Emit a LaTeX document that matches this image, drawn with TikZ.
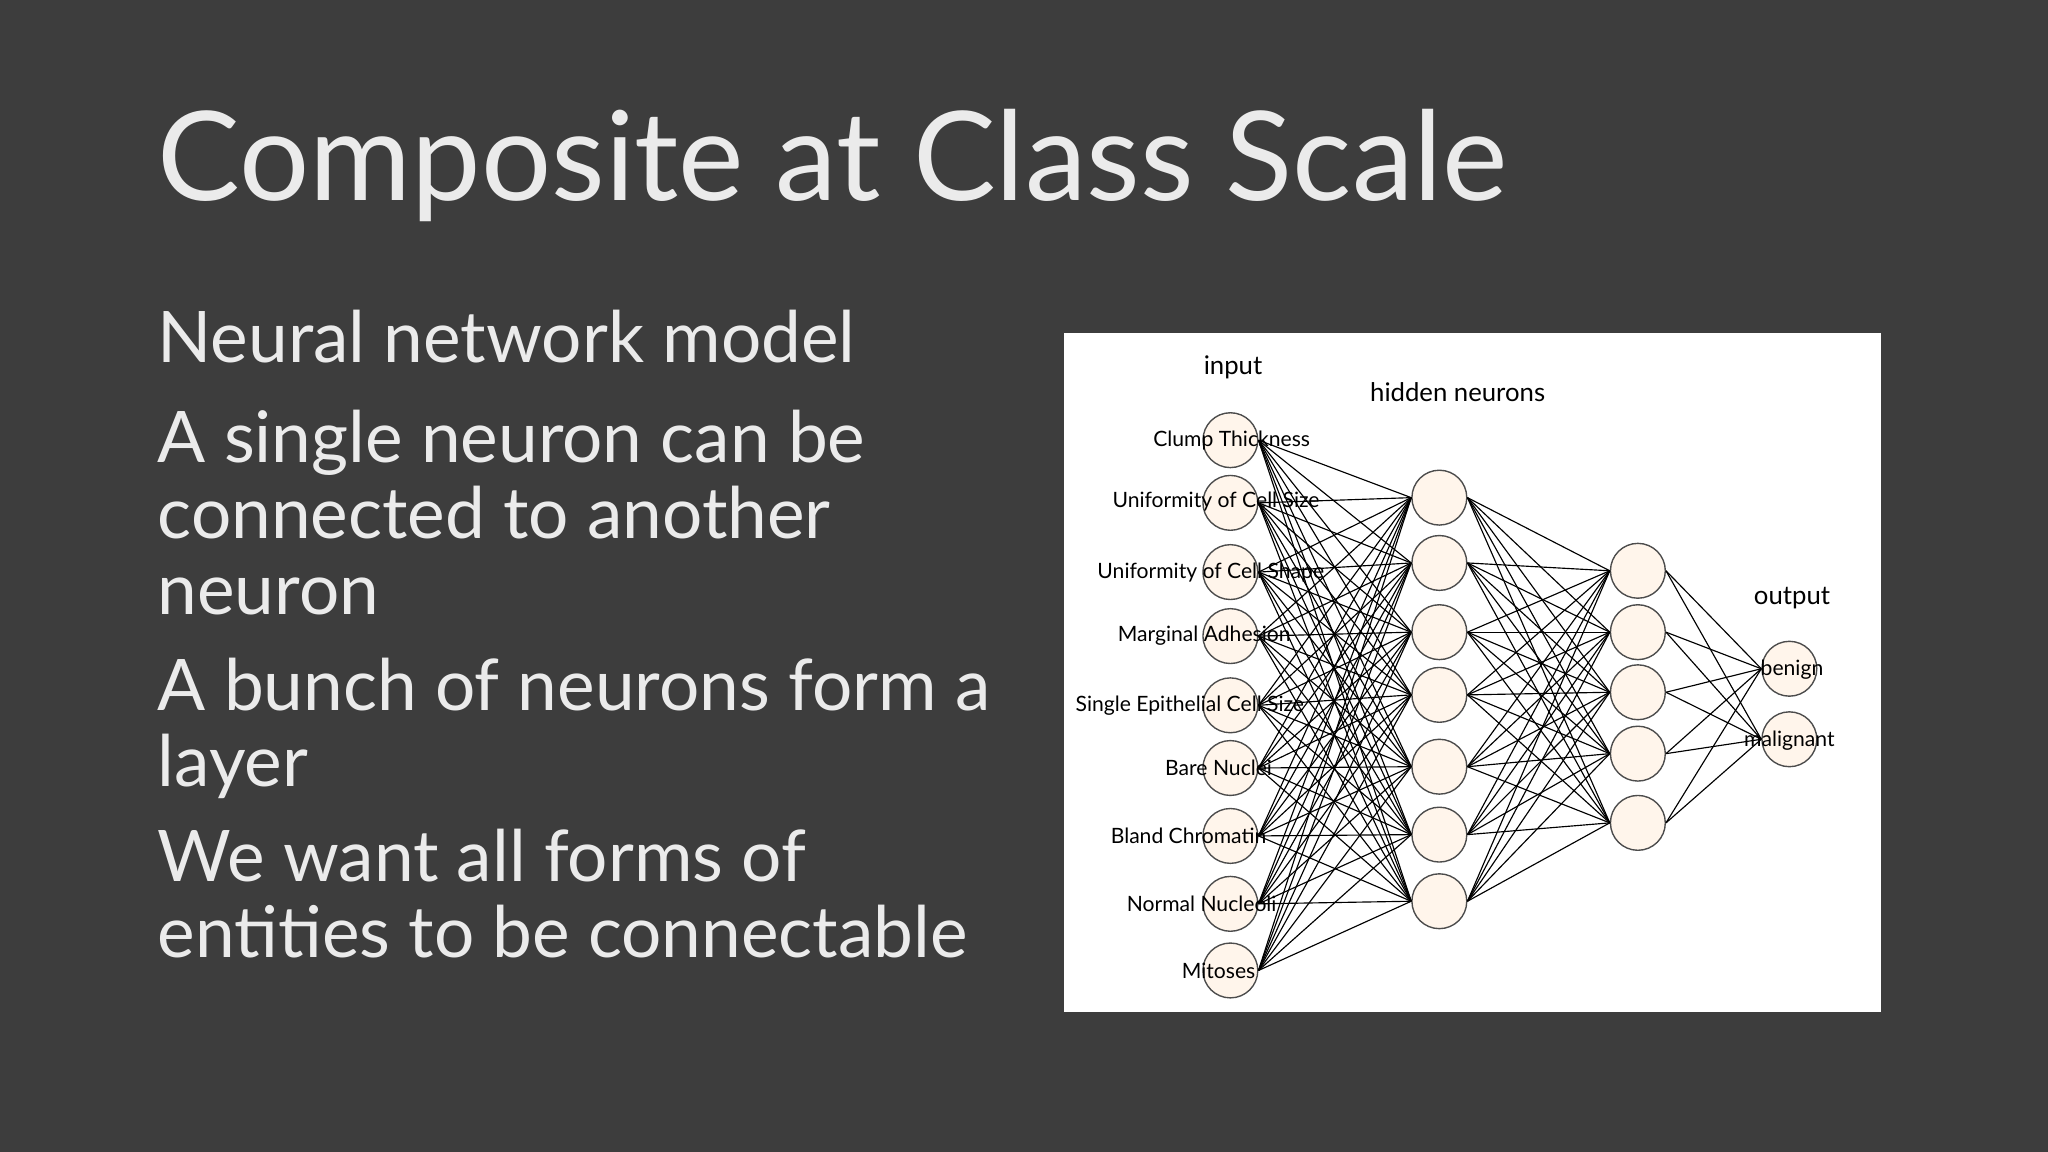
\documentclass[tikz,border=0pt]{standalone}
\usepackage{fontspec}
\setmainfont{Lato}
\begin{document}
\begin{tikzpicture}[x=0.1mm,y=-0.1mm,
  neu/.style={circle,draw=black!70,fill=orange!8,line width=0.3pt,minimum size=4.2mm,inner sep=0pt},
  lab/.style={font=\fontsize{4.6}{5}\selectfont,text=black},
  layertitle/.style={font=\fontsize{5.6}{6}\selectfont,text=black},
  body/.style={font=\fontsize{15.5}{16.6}\selectfont,text=white!92!black,anchor=north west,align=left,inner sep=0pt},
  edge/.style={line width=0.25pt,black}]
\fill[black!76] (0,0) rectangle (1568,882);
\node[anchor=west,inner sep=0pt,font=\fontsize{27}{30}\selectfont,text=white!92!black] (title) at (120,127) {Composite at Class Scale};
\node[body] (b1) at (120,237) {Neural network model};
\node[body] (b2) at (120,313) {A single neuron can be\\connected to another\\neuron};
\node[body] (b3) at (120,503) {A bunch of neurons form a\\layer};
\node[body] (b4) at (120,634) {We want all forms of\\entities to be connectable};
\fill[white] (815,255) rectangle (1440,775);
\foreach \y [count=\i] in {337,385,438,487,540,588,640,692,743} \node[neu] (i\i) at (942,\y) {};
\foreach \y [count=\i] in {381,431,484,532,587,639,690} \node[neu] (h\i) at (1102,\y) {};
\foreach \y [count=\i] in {437,484,530,577,630} \node[neu] (g\i) at (1254,\y) {};
\foreach \y [count=\i] in {512,566} \node[neu] (o\i) at (1370,\y) {};
\foreach \a in {1,...,9}\foreach \b in {1,...,7} \draw[edge] (i\a.east) -- (h\b.west);
\foreach \a in {1,...,7}\foreach \b in {1,...,5} \draw[edge] (h\a.east) -- (g\b.west);
\foreach \a in {1,...,5}\foreach \b in {1,2} \draw[edge] (g\a.east) -- (o\b.west);
\node[lab] (l1) at (943,337) {Clump Thickness};
\node[lab] (l2) at (931,384) {Uniformity of Cell Size};
\node[lab] (l3) at (927,438) {Uniformity of Cell Shape};
\node[lab] (l4) at (922,487) {Marginal Adhesion};
\node[lab] (l5) at (911,540) {Single Epithelial Cell Size};
\node[lab] (l6) at (933,588) {Bare Nuclei};
\node[lab] (l7) at (910,640) {Bland Chromatin};
\node[lab] (l8) at (920,692) {Normal Nucleoli};
\node[lab] (l9) at (933,743) {Mitoses};
\node[lab] (lo1) at (1372,513) {benign};
\node[lab] (lo2) at (1370,567) {malignant};
\node[layertitle] (ci) at (944,281) {input};
\node[layertitle] (ch) at (1116,300) {hidden neurons};
\node[layertitle] (co) at (1372,458) {output};
\end{tikzpicture}
\end{document}
